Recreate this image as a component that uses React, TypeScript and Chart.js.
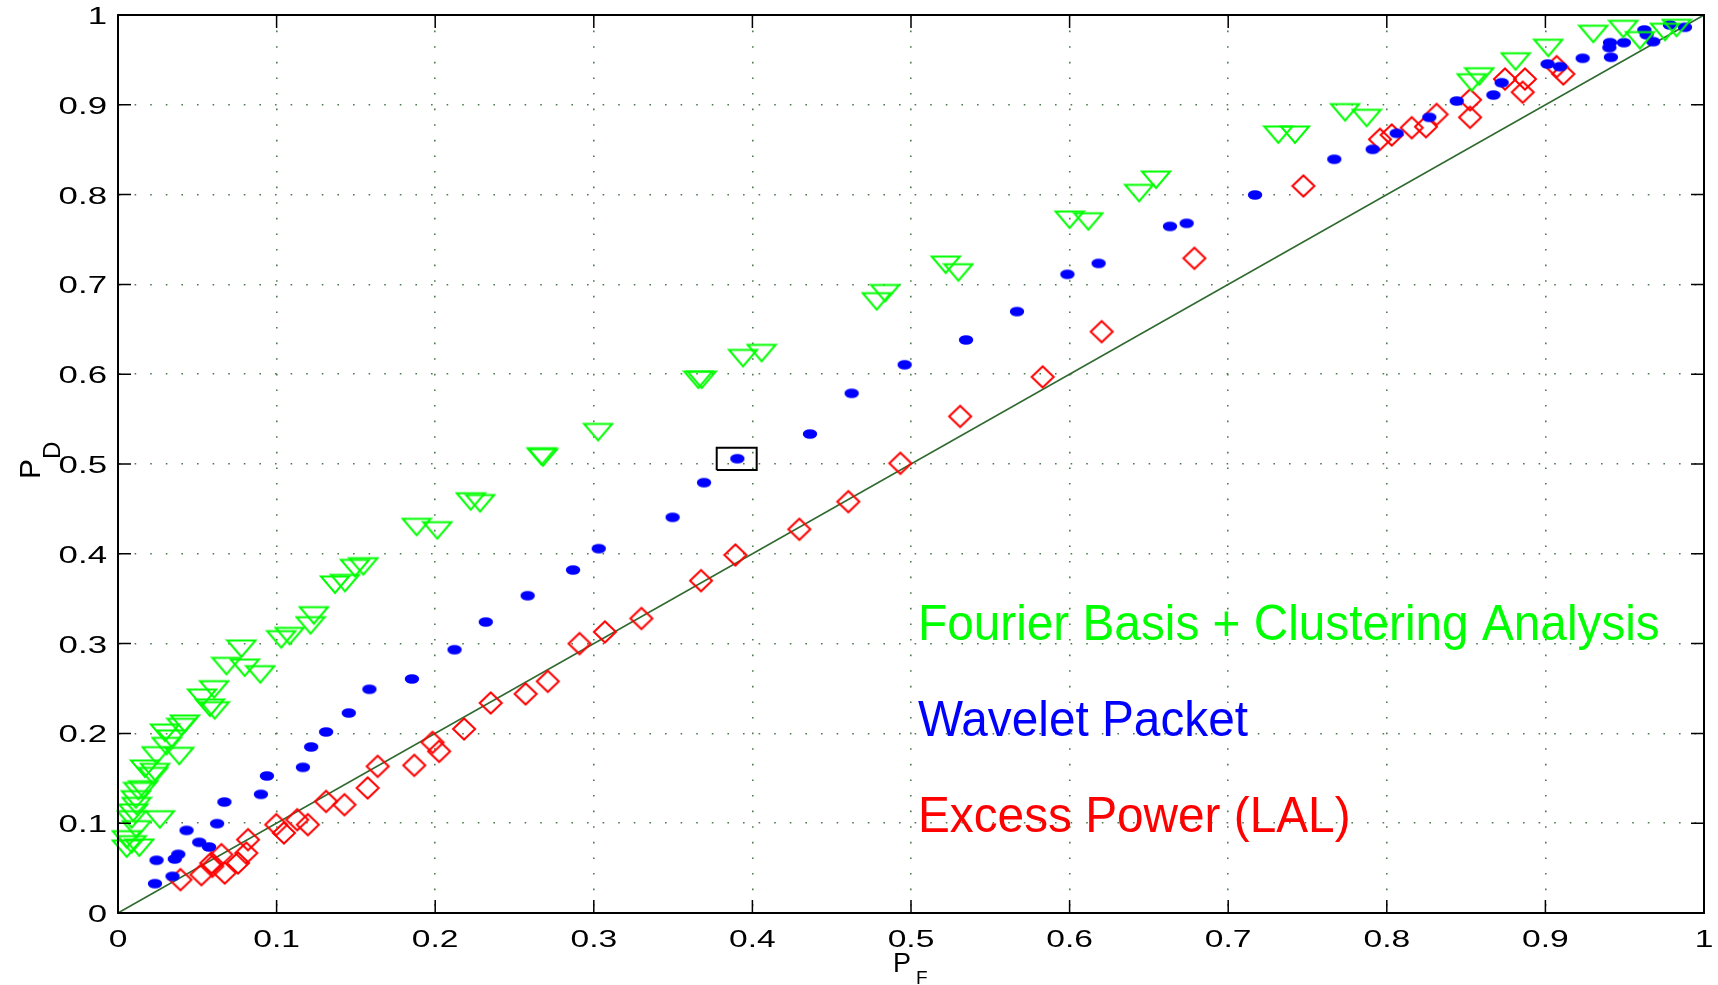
import React, { useEffect, useRef } from "react";
import { Chart, registerables } from "chart.js";

Chart.register(...registerables);

// ---------- data ----------
const tickValues = [0, 0.1, 0.2, 0.3, 0.4, 0.5, 0.6, 0.7, 0.8, 0.9, 1];
const tickLabels = ["0", "0.1", "0.2", "0.3", "0.4", "0.5", "0.6", "0.7", "0.8", "0.9", "1"];

const seriesNames = ["Fourier Basis + Clustering Analysis", "Wavelet Packet", "Excess Power (LAL)"];
const seriesColors = ["#00ff00", "#0000ff", "#ff0000"];
const xAxisTitle = ["P", "F"];
const yAxisTitle = ["P", "D"];

const fourierPF = [
  0.0055, 0.0055, 0.0086, 0.0134, 0.0117, 0.0086, 0.0264, 0.0096, 0.0117, 0.0113,
  0.0128, 0.0159, 0.0222, 0.0233, 0.017, 0.0306, 0.0243, 0.0386, 0.0338, 0.0296,
  0.04, 0.0421, 0.0579, 0.061, 0.053, 0.0606, 0.0897, 0.0684, 0.0799, 0.0778,
  0.1029, 0.1082, 0.1214, 0.1235, 0.1368, 0.1431, 0.1494, 0.1547, 0.1883, 0.2013,
  0.2224, 0.2283, 0.2671, 0.268, 0.3027, 0.3659, 0.368, 0.3941, 0.4058, 0.4784,
  0.4837, 0.5219, 0.5299, 0.6, 0.6118, 0.6438, 0.6545, 0.7316, 0.7421, 0.7737,
  0.7873, 0.8535, 0.8583, 0.8812, 0.9018, 0.9302, 0.9491, 0.9596, 0.9754, 0.9827,
];
const fourierPD = [
  0.0713, 0.0817, 0.0761, 0.0724, 0.0928, 0.1039, 0.1039, 0.1114, 0.1188, 0.1262,
  0.1355, 0.1373, 0.1522, 0.1566, 0.1604, 0.1856, 0.1752, 0.1745, 0.1938, 0.2004,
  0.2068, 0.2105, 0.2283, 0.2253, 0.2394, 0.2487, 0.2654, 0.2747, 0.2728, 0.294,
  0.3044, 0.3081, 0.32, 0.3311, 0.3653, 0.3671, 0.3838, 0.3857, 0.4295, 0.4258,
  0.458, 0.456, 0.5081, 0.507, 0.5352, 0.5935, 0.5935, 0.6176, 0.6232, 0.6808,
  0.6899, 0.7216, 0.713, 0.7717, 0.7698, 0.8014, 0.8162, 0.8664, 0.8664, 0.8913,
  0.885, 0.9246, 0.9313, 0.948, 0.963, 0.9786, 0.9841, 0.9715, 0.9808, 0.9852,
];

const waveletPF = [
  0.0233, 0.0243, 0.0344, 0.0358, 0.038, 0.0432, 0.0512, 0.0574, 0.0625, 0.0671,
  0.0901, 0.0939, 0.1166, 0.1218, 0.1312, 0.1455, 0.1585, 0.1853, 0.2122, 0.2319,
  0.2583, 0.2869, 0.3031, 0.3497, 0.3695, 0.3905, 0.4363, 0.4626, 0.496, 0.5347,
  0.5668, 0.5986, 0.6183, 0.6633, 0.6738, 0.7169, 0.7669, 0.7911, 0.8062, 0.8268,
  0.8441, 0.8672, 0.8724, 0.9014, 0.9092, 0.9235, 0.9403, 0.9407, 0.9413, 0.9495,
  0.9624, 0.9638, 0.968, 0.9785, 0.988,
];
const waveletPD = [
  0.0327, 0.0587, 0.0408, 0.0601, 0.0653, 0.092, 0.0787, 0.0735, 0.0995, 0.1236,
  0.1321, 0.1526, 0.1622, 0.1849, 0.2016, 0.2227, 0.2491, 0.2606, 0.2932, 0.324,
  0.3533, 0.3819, 0.4057, 0.4406, 0.4792, 0.5059, 0.5334, 0.5787, 0.6105, 0.6381,
  0.6697, 0.7112, 0.7234, 0.7646, 0.768, 0.7996, 0.8393, 0.8504, 0.8682, 0.886,
  0.9042, 0.9109, 0.9246, 0.9454, 0.9425, 0.9518, 0.9637, 0.9692, 0.9529, 0.9692,
  0.9833, 0.978, 0.9703, 0.9889, 0.9863,
];

const excessPF = [
  0.0394, 0.0526, 0.0589, 0.0595, 0.0652, 0.0673, 0.0757, 0.0809, 0.082, 0.0998,
  0.1046, 0.113, 0.1197, 0.1312, 0.1428, 0.1574, 0.1637, 0.1868, 0.1983, 0.2025,
  0.2182, 0.235, 0.257, 0.271, 0.291, 0.307, 0.33, 0.3676, 0.3893, 0.4296,
  0.4605, 0.4933, 0.531, 0.583, 0.6202, 0.6787, 0.7474, 0.7957, 0.8031, 0.8157,
  0.8247, 0.8314, 0.8525, 0.8525, 0.8745, 0.8871, 0.8857, 0.9071, 0.9113,
];
const excessPD = [
  0.0371, 0.0427, 0.0557, 0.052, 0.065, 0.0445, 0.0557, 0.0668, 0.0817, 0.0984,
  0.0891, 0.1039, 0.0984, 0.1243, 0.1206, 0.1392, 0.1633, 0.1644, 0.19, 0.18,
  0.2049, 0.2339, 0.244, 0.258, 0.3, 0.313, 0.328, 0.3701, 0.3987, 0.4273,
  0.4581, 0.5008, 0.553, 0.597, 0.6474, 0.7291, 0.8096, 0.8615, 0.8664, 0.8745,
  0.8756, 0.8893, 0.9056, 0.886, 0.9287, 0.9287, 0.914, 0.9425, 0.9343,
];

const diagonalPF = [0, 1];
const diagonalPD = [0, 1];

const highlightPF = [0.3775, 0.4027, 0.4027, 0.3775, 0.3775];
const highlightPD = [0.4933, 0.4933, 0.5182, 0.5182, 0.4933];

// ---------- helpers ----------
const zip = (xs: number[], ys: number[]) => xs.map((x, i) => ({ x, y: ys[i] }));

function makeEllipse(color: string) {
  const c = document.createElement("canvas");
  c.width = 18;
  c.height = 12;
  const g = c.getContext("2d")!;
  g.fillStyle = color;
  g.beginPath();
  g.ellipse(9, 6, 7.2, 4.8, 0, 0, Math.PI * 2);
  g.fill();
  return c;
}
function makeTriangleDown(color: string) {
  const c = document.createElement("canvas");
  c.width = 32;
  c.height = 22;
  const g = c.getContext("2d")!;
  g.strokeStyle = color;
  g.lineWidth = 2;
  g.lineJoin = "miter";
  g.beginPath();
  g.moveTo(2, 2.5);
  g.lineTo(30, 2.5);
  g.lineTo(16, 19);
  g.closePath();
  g.stroke();
  return c;
}
function makeDiamond(color: string) {
  const c = document.createElement("canvas");
  c.width = 26;
  c.height = 26;
  const g = c.getContext("2d")!;
  g.strokeStyle = color;
  g.lineWidth = 2;
  g.beginPath();
  g.moveTo(2, 13);
  g.lineTo(13, 2.5);
  g.lineTo(24, 13);
  g.lineTo(13, 23.5);
  g.closePath();
  g.stroke();
  return c;
}

const TICK_LEN = 13;
const TICK_FONT = '24px "Liberation Sans", Arial, sans-serif';
const X_TICK_STRETCH = 1.4;
const Y_TICK_STRETCH = 1.45;
const GRID_DASH = [1.6, 14];

const framePlugin = {
  id: "matlabFrame",
  afterDatasetsDraw(chart: any) {
    const { ctx, chartArea: a, scales } = chart;
    ctx.save();
    ctx.strokeStyle = "#000";
    ctx.lineWidth = 2;
    ctx.setLineDash([]);
    ctx.strokeRect(a.left, a.top, a.right - a.left, a.bottom - a.top);
    ctx.lineWidth = 1.5;
    ctx.beginPath();
    tickValues.forEach((v) => {
      const px = scales.x.getPixelForValue(v);
      ctx.moveTo(px, a.bottom);
      ctx.lineTo(px, a.bottom - TICK_LEN);
      ctx.moveTo(px, a.top);
      ctx.lineTo(px, a.top + TICK_LEN);
      const py = scales.y.getPixelForValue(v);
      ctx.moveTo(a.left, py);
      ctx.lineTo(a.left + TICK_LEN, py);
      ctx.moveTo(a.right, py);
      ctx.lineTo(a.right - TICK_LEN, py);
    });
    ctx.stroke();
    ctx.restore();
  },
  afterDraw(chart: any) {
    const { ctx, chartArea: a, scales } = chart;
    ctx.save();
    ctx.fillStyle = "#000";
    ctx.font = TICK_FONT;
    ctx.textBaseline = "alphabetic";
    // tick labels (wide lettering, positioned by the scales)
    tickValues.forEach((v, i) => {
      const px = scales.x.getPixelForValue(v);
      ctx.save();
      ctx.translate(px, a.bottom + 34);
      ctx.scale(X_TICK_STRETCH, 1);
      ctx.textAlign = "center";
      ctx.fillText(tickLabels[i], 0, 0);
      ctx.restore();
      const py = scales.y.getPixelForValue(v);
      ctx.save();
      ctx.translate(a.left - 11, py + 9);
      ctx.scale(Y_TICK_STRETCH, 1);
      ctx.textAlign = "right";
      ctx.fillText(tickLabels[i], 0, 0);
      ctx.restore();
    });

    // in-plot labels
    const lx = 918;
    const baselines = [640, 736, 832];
    ctx.font = '50px "Liberation Sans", Arial, sans-serif';
    ctx.textAlign = "left";
    seriesNames.forEach((name, i) => {
      ctx.save();
      ctx.translate(lx, baselines[i]);
      ctx.scale(0.955, 1);
      ctx.fillStyle = seriesColors[i];
      ctx.fillText(name, 0, 0);
      ctx.restore();
    });
    // x axis title P_F
    ctx.fillStyle = "#000";
    ctx.font = '27px "Liberation Sans", Arial, sans-serif';
    ctx.fillText(xAxisTitle[0], 893, 972);
    ctx.font = '19px "Liberation Sans", Arial, sans-serif';
    ctx.fillText(xAxisTitle[1], 916, 984);
    // y axis title P_D (rotated)
    ctx.save();
    ctx.translate(40, 479);
    ctx.rotate(-Math.PI / 2);
    ctx.font = '30px "Liberation Sans", Arial, sans-serif';
    ctx.fillText(yAxisTitle[0], 0, 0);
    ctx.font = '24px "Liberation Sans", Arial, sans-serif';
    ctx.fillText(yAxisTitle[1], 20, 20);
    ctx.restore();
    ctx.restore();
  },
};

export default function App() {
  const ref = useRef<HTMLCanvasElement | null>(null);

  useEffect(() => {
    if (!ref.current) return;
    const chart = new Chart(ref.current, {
      type: "scatter",
      data: {
        datasets: [
          {
            label: seriesNames[0],
            data: zip(fourierPF, fourierPD),
            pointStyle: makeTriangleDown(seriesColors[0]) as any,
            pointRadius: 12,
            clip: false as any,
            order: 1,
          },
          {
            label: seriesNames[1],
            data: zip(waveletPF, waveletPD),
            pointStyle: makeEllipse(seriesColors[1]) as any,
            pointRadius: 6,
            clip: false as any,
            order: 2,
          },
          {
            label: seriesNames[2],
            data: zip(excessPF, excessPD),
            pointStyle: makeDiamond(seriesColors[2]) as any,
            pointRadius: 11,
            clip: false as any,
            order: 3,
          },
          {
            label: "diagonal",
            data: zip(diagonalPF, diagonalPD),
            showLine: true,
            borderColor: "#2f6a2f",
            borderWidth: 1.6,
            pointRadius: 0,
            order: 10,
          } as any,
          {
            label: "highlight",
            data: zip(highlightPF, highlightPD),
            showLine: true,
            borderColor: "#000",
            borderWidth: 2,
            pointRadius: 0,
            order: 0,
          } as any,
        ],
      },
      options: {
        animation: false,
        responsive: false,
        events: [],
        layout: { padding: { top: 15, right: 14, left: 0, bottom: 0 } },
        plugins: {
          legend: { display: false },
          tooltip: { enabled: false },
        },
        scales: {
          x: {
            type: "linear",
            min: 0,
            max: 1,
            afterFit: (s: any) => {
              s.height = 72;
              s.paddingLeft = 0;
              s.paddingRight = 0;
              s.paddingTop = 0;
              s.paddingBottom = 0;
            },
            afterBuildTicks: (s: any) => {
              s.ticks = tickValues.map((v) => ({ value: v }));
            },
            ticks: { display: false, autoSkip: false },
            grid: {
              color: "#4f7a4f",
              lineWidth: 1.6,
              drawTicks: false,
            } as any,
            border: { display: true, color: "#000", width: 2, dash: GRID_DASH } as any,
          },
          y: {
            type: "linear",
            min: 0,
            max: 1,
            afterFit: (s: any) => {
              s.width = 118;
              s.paddingLeft = 0;
              s.paddingRight = 0;
              s.paddingTop = 0;
              s.paddingBottom = 0;
            },
            afterBuildTicks: (s: any) => {
              s.ticks = tickValues.map((v) => ({ value: v }));
            },
            ticks: { display: false, autoSkip: false },
            grid: {
              color: "#4f7a4f",
              lineWidth: 1.6,
              drawTicks: false,
            } as any,
            border: { display: true, color: "#000", width: 2, dash: GRID_DASH } as any,
          },
        },
      },
      plugins: [framePlugin],
    });
    return () => chart.destroy();
  }, []);

  return (
    <div style={{ position: "absolute", left: 0, top: 0, width: 1718, height: 985, background: "#fff" }}>
      <canvas ref={ref} width={1718} height={985} style={{ display: "block", width: 1718, height: 985 }} />
    </div>
  );
}
